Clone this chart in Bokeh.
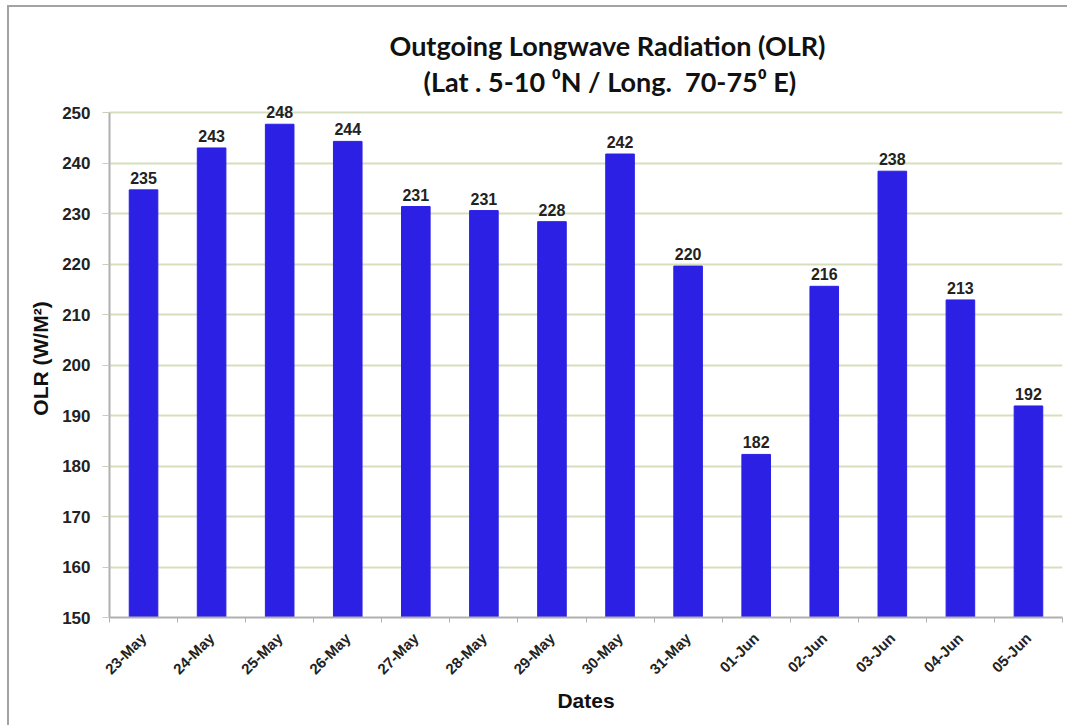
import numpy as np
from bokeh.plotting import figure
from bokeh.models import FixedTicker, ColumnDataSource, Range1d, Title
from bokeh.core.properties import value
from bokeh.embed import file_html
from bokeh.resources import INLINE

dates = ["23-May", "24-May", "25-May", "26-May", "27-May", "28-May", "29-May",
         "30-May", "31-May", "01-Jun", "02-Jun", "03-Jun", "04-Jun", "05-Jun"]
olr = [234.7, 243.0, 247.7, 244.3, 231.4, 230.6, 228.4,
       241.8, 219.6, 182.3, 215.6, 238.4, 212.9, 191.9]
y_ticks = [150, 160, 170, 180, 190, 200, 210, 220, 230, 240, 250]
title1 = "Outgoing Longwave Radiation (OLR)"
title2 = "(Lat . 5-10 \u2070N / Long.\u00a0 70-75\u2070 E)"

xpos = np.arange(len(dates)) + 0.5
labels = [str(int(round(v))) for v in olr]
src = ColumnDataSource(dict(x=xpos, top=olr, lab=labels))

FONT = "Liberation Sans"
TFONT = "Lato"
BLUE = "#2B20E4"

p = figure(width=1060, height=720, output_backend="svg", toolbar_location=None,
           x_range=Range1d(0, len(dates)), y_range=Range1d(150, 252.6),
           min_border_left=100, min_border_right=7, min_border_top=92,
           min_border_bottom=110)
p.styles = {"box-shadow": "-2px -2px 0px 0px #a3a3a3",
            "margin-left": "9px", "margin-top": "7px", "background-color": "white"}
p.outline_line_color = None
p.background_fill_color = "white"
p.border_fill_color = "white"

p.vbar(x="x", top="top", bottom=150, width=0.42, source=src,
       fill_color=BLUE, line_color=BLUE, line_width=1)
p.text(x="x", y="top", text="lab", source=src, y_offset=-6,
       text_align="center", text_baseline="bottom",
       text_font=value(FONT), text_font_size="16px", text_font_style="bold",
       text_color="#222222")

# axes
p.xgrid.grid_line_color = None
p.ygrid.grid_line_color = "#D5DFBE"
p.ygrid.grid_line_width = 2
p.yaxis.ticker = FixedTicker(ticks=y_ticks)
p.yaxis.bounds = (150, 250)
p.yaxis.axis_line_color = "#B0B0B0"
p.yaxis.axis_line_width = 2
p.yaxis.major_tick_line_color = "#C8CFB8"
p.yaxis.major_tick_out = 7
p.yaxis.major_tick_in = 0
p.yaxis.minor_tick_line_color = None
p.yaxis.major_label_text_font = FONT
p.yaxis.major_label_text_font_size = "17px"
p.yaxis.major_label_text_font_style = "bold"
p.yaxis.major_label_text_color = "#222222"
p.yaxis.major_label_standoff = 12
p.yaxis.axis_label = "OLR (W/M\u00b2)"
p.yaxis.axis_label_text_font = FONT
p.yaxis.axis_label_text_font_size = "21px"
p.yaxis.axis_label_text_font_style = "bold"
p.yaxis.axis_label_text_color = "#111111"
p.yaxis.axis_label_standoff = 7

p.xaxis.ticker = FixedTicker(ticks=list(xpos), minor_ticks=list(range(len(dates) + 1)))
p.xaxis.major_label_overrides = {float(x): d for x, d in zip(xpos, dates)}
p.xaxis.major_tick_line_color = None
p.xaxis.minor_tick_line_color = "#B0B0B0"
p.xaxis.minor_tick_out = 5
p.xaxis.minor_tick_in = 0
p.xaxis.axis_line_color = "#B0B0B0"
p.xaxis.axis_line_width = 2
p.xaxis.major_label_orientation = np.pi / 4
p.xaxis.major_label_text_font = FONT
p.xaxis.major_label_text_font_size = "15px"
p.xaxis.major_label_text_font_style = "bold"
p.xaxis.major_label_text_color = "#222222"
p.xaxis.major_label_standoff = 12
p.xaxis.axis_label = "Dates"
p.xaxis.axis_label_text_font = FONT
p.xaxis.axis_label_text_font_size = "21px"
p.xaxis.axis_label_text_font_style = "bold"
p.xaxis.axis_label_text_color = "#111111"
p.xaxis.axis_label_standoff = 3

t2 = Title(text=title2, align="left", offset=314, standoff=3,
           text_font=TFONT, text_font_size="27px", text_font_style="bold",
           text_color="#111111")
t1 = Title(text=title1, align="left", offset=280, standoff=0,
           text_font=TFONT, text_font_size="27px", text_font_style="bold",
           text_color="#111111")
p.add_layout(t2, "above")
p.add_layout(t1, "above")

open("out.html", "w").write(file_html(p, INLINE))
